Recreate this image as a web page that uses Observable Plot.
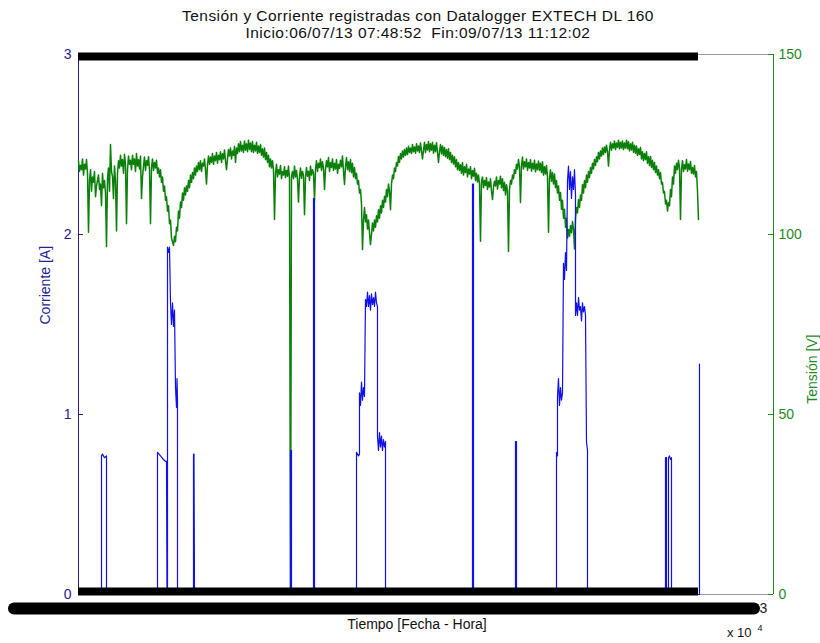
<!DOCTYPE html>
<html>
<head>
<meta charset="utf-8">
<script src="https://cdn.jsdelivr.net/npm/d3@7"></script>
<script src="https://cdn.jsdelivr.net/npm/@observablehq/plot@0.6"></script>
<style>
  body { margin: 0; background: #fff; }
  #title { width: 820px; height: 44px; box-sizing: border-box; padding-top: 7px; padding-left: 16px;
           text-align: center; font-family: "Liberation Sans", Arial, sans-serif; font-size: 15.5px; letter-spacing: 0.45px; line-height: 17px; color: #111; }
  #chart svg { display: block; }
</style>
</head>
<body>
<div id="title">Tensión y Corriente registradas con Datalogger EXTECH DL 160<br>Inicio:06/07/13 07:48:52&nbsp;&nbsp;Fin:09/07/13 11:12:02</div>
<div id="chart"></div>
<script>
// ---- data ----
// Voltage readings (V), one every voltStep samples from the start of the log
const voltStep = 86.33;
const voltage = [
120.5,119.2,121.0,119.5,120.8,100.6,118.0,116.0,117.5,113.5,
116.5,114.0,117.0,115.0,96.7,118.5,125.0,116.0,119.0,101.0,
120.5,122.0,120.8,122.3,103.0,121.8,120.6,122.0,121.0,122.5,
120.8,121.8,116.0,121.5,120.5,121.6,103.0,121.0,120.0,120.6,
118.5,118.0,116.0,113.5,110.5,108.0,104.0,98.0,99.5,102.0,
106.5,109.0,111.5,113.0,113.5,115.0,116.5,117.2,118.5,119.0,
120.0,120.5,119.8,121.0,114.0,121.8,121.5,122.5,121.8,122.8,
122.0,123.0,122.4,123.5,118.0,123.6,124.0,123.2,124.5,124.0,
125.2,125.8,124.8,126.0,125.2,126.2,125.4,125.8,124.8,125.6,
124.6,125.0,123.8,124.0,122.8,122.0,121.0,120.5,104.2,119.5,
118.0,119.2,117.5,118.8,117.8,119.0,0,117.5,119.0,117.8,
109.0,118.5,117.5,105.5,118.6,117.6,119.0,118.0,109.5,120.5,
119.8,121.0,120.2,112.5,120.5,121.4,120.0,121.0,119.8,120.8,
119.5,120.6,121.8,113.9,121.4,120.2,120.8,119.8,118.6,117.0,
115.0,112.5,95.8,107.5,105.5,104.0,97.2,103.2,104.0,105.2,
106.9,108.0,109.5,110.6,112.5,114.0,106.9,116.5,118.5,120.0,
121.7,122.5,123.2,123.6,124.0,124.5,124.0,125.0,124.3,125.2,
124.6,125.4,121.0,125.6,125.0,125.8,125.2,125.6,124.8,125.5,
120.0,125.0,124.6,124.2,123.6,123.8,122.8,122.0,121.6,120.8,
120.0,119.4,120.0,118.8,119.5,118.2,118.8,117.8,118.4,117.0,
116.5,98.1,116.0,115.0,115.8,114.6,115.5,109.7,114.8,116.0,
115.0,116.2,115.5,114.5,113.8,95.3,115.0,116.5,118.0,119.5,
120.8,108.9,121.5,120.2,121.0,120.0,120.8,119.8,120.6,119.6,
120.4,119.8,120.2,118.8,119.2,100.6,118.0,117.2,116.8,115.0,
113.5,111.7,109.5,107.0,104.5,101.4,102.5,103.6,96.0,107.5,
109.7,111.0,113.9,115.0,116.5,117.5,118.6,119.8,120.8,121.6,
122.8,123.2,124.0,124.3,124.8,119.0,125.6,125.2,126.0,125.4,
126.2,125.6,126.0,125.4,126.2,125.8,125.2,125.6,124.8,124.6,
123.8,124.2,123.0,122.5,123.0,121.6,121.7,120.6,120.0,119.0,
118.0,117.2,114.5,112.0,109.5,108.9,112.5,116.0,119.0,119.8,
120.6,104.2,120.5,119.4,120.8,119.6,120.3,118.6,119.2,117.5,
104.2
];
// Intermediate readings (V), half a step after each reading above (lower edge of the noisy band)
const voltageMid = [
117.5,118.0,116.5,118.2,117.0,115.0,112.0,114.5,110.5,115.0,
112.5,108.0,113.0,111.5,115.5,112.0,117.5,110.0,115.0,117.0,
118.5,119.0,117.0,119.5,118.0,119.5,118.0,119.5,117.5,119.0,
118.2,110.0,119.0,117.8,119.2,118.0,118.5,117.8,118.5,117.0,
116.0,114.5,112.0,109.5,106.5,103.0,99.0,97.0,98.0,101.0,
104.5,107.5,109.5,111.0,112.0,113.0,114.5,115.5,116.5,117.5,
118.0,117.5,119.0,118.0,119.5,119.5,120.0,119.5,120.5,119.8,
120.8,120.0,121.0,120.5,121.0,121.8,121.0,122.0,120.0,122.5,
123.0,123.2,122.8,123.4,123.0,123.6,123.0,122.8,123.2,122.5,
122.8,122.0,121.5,120.8,120.0,118.8,118.5,117.8,117.0,116.0,
116.8,115.5,116.5,115.8,116.2,115.5,116.0,115.5,116.0,115.2,
116.0,115.6,116.4,115.8,116.2,115.0,116.5,117.0,118.0,117.5,
118.6,117.8,118.5,118.0,118.8,117.5,118.6,117.8,118.2,117.0,
118.4,118.8,117.6,118.8,118.0,117.5,117.2,116.0,115.5,114.0,
111.5,108.5,104.0,103.5,101.5,100.5,100.0,101.0,102.0,103.5,
104.5,106.0,107.5,109.0,110.5,112.0,114.0,115.5,117.5,119.0,
120.0,121.0,121.5,122.0,122.2,122.8,122.5,123.0,122.6,123.2,
122.8,123.2,123.4,122.8,123.5,123.0,123.4,122.6,123.0,122.8,
123.0,122.4,122.0,121.6,121.2,120.8,120.0,119.6,118.8,118.0,
117.8,117.0,116.5,117.2,116.0,116.8,115.5,116.2,115.0,114.6,
114.0,114.8,113.0,113.6,112.5,113.2,112.0,113.0,113.5,112.6,
114.0,113.0,112.2,111.0,112.0,112.5,114.0,115.5,117.0,118.2,
118.8,119.0,118.2,118.8,117.8,118.5,117.6,118.2,117.4,118.0,
117.8,117.2,116.5,116.8,116.0,115.5,114.8,114.0,113.0,111.5,
109.5,107.0,104.5,102.0,99.0,99.5,100.5,101.5,104.5,106.0,
107.5,109.5,111.5,113.0,114.5,115.8,117.0,118.2,119.2,120.2,
121.0,121.8,122.2,122.8,123.0,123.5,123.4,124.0,123.6,124.2,
123.8,124.0,123.6,124.0,123.8,123.2,123.5,122.8,122.6,122.0,
122.2,121.0,120.5,120.8,119.8,119.2,118.6,118.0,117.2,116.5,
115.5,114.0,111.5,108.5,106.5,108.0,110.5,114.0,117.0,118.0,
118.6,118.0,117.5,118.2,117.6,118.0,117.0,116.8,116.0,112.0
];
// Current: [sample index, amperes]
const current = [
[0,0],[993,0],[993,0.77],[1036,0.78],[1122,0.76],[1209,0.77],[1209,0],
[3410,0],[3410,0.79],[3540,0.77],[3669,0.75],[3755,0.74],[3799,0.74],[3820,0],[3842,0],[3842,1.93],[3885,1.90],[3928,1.93],[3971,1.62],[4014,1.50],[4058,1.62],[4101,1.49],[4144,1.58],[4187,1.15],[4230,1.04],[4252,1.20],[4273,1.08],[4273,0],
[4964,0],[4964,0.78],[4986,0.78],[5007,0],
[9151,0],[9151,0.80],[9194,0.80],[9194,0],
[10144,0],[10144,2.20],[10187,2.20],[10187,0],
[12000,0],[12000,0.79],[12086,0.77],[12129,0.78],[12129,1.12],[12173,1.05],[12216,1.18],[12259,1.08],[12302,1.15],[12345,1.10],[12388,1.64],[12432,1.60],[12475,1.68],[12518,1.60],[12561,1.66],[12604,1.58],[12647,1.67],[12691,1.61],[12734,1.65],[12777,1.60],[12820,1.68],[12863,1.62],[12906,1.60],[12906,0.88],[12950,0.80],[12993,0.90],[13036,0.82],[13079,0.88],[13122,0.80],[13165,0.86],[13209,0.82],[13252,0.85],[13252,0],
[17007,0],[17007,2.28],[17050,2.28],[17050,0],
[18863,0],[18863,0.85],[18906,0.85],[18906,0],
[20633,0],[20633,0.79],[20676,0.77],[20676,1.10],[20719,1.20],[20762,1.05],[20806,1.15],[20849,1.08],[20892,1.12],[20935,1.84],[20978,1.75],[21021,1.90],[21065,1.80],[21108,2.30],[21151,2.38],[21194,2.25],[21237,2.35],[21280,2.20],[21324,2.32],[21367,2.25],[21410,2.36],[21453,2.22],[21453,1.55],[21496,1.62],[21539,1.55],[21583,1.65],[21626,1.58],[21669,1.60],[21712,1.52],[21755,1.62],[21798,1.57],[21842,1.60],[21885,1.55],[21928,0.85],[21971,0.80],[21971,0],
[25338,0],[25338,0.76],[25381,0.76],[25381,0],[25467,0],[25467,0.76],[25510,0.77],[25554,0.75],[25597,0.76],[25597,0],
[26805,0],[26805,1.28]
];
const currentTicks = [0, 1, 2, 3];
const voltageTicks = [0, 50, 100, 150];
const voltsPerAmpUnit = 50;          // right axis = left axis x 50
const xDomain = [0, 30000];
const dataEnd = 26763;
// heavy black bands seen in the picture: [x1, x2, y]
const bandTop = [[0, dataEnd, 3]];
const bandBottom = [[0, dataEnd, 0]];
const bandLabels = [[-2763, 29180, -0.078]];

// ---- build ----
const voltRows = [];
voltage.forEach((v, i) => {
  voltRows.push({t: i * voltStep, v: v / voltsPerAmpUnit});
  if (i < voltageMid.length) voltRows.push({t: (i + 0.5) * voltStep, v: voltageMid[i] / voltsPerAmpUnit});
});
const navy = "#23238f", green = "#1f8a1f";
const tickLen = 216;

const chart = Plot.plot({
  width: 820, height: 599,
  marginLeft: 78, marginRight: 47, marginTop: 10, marginBottom: 49,
  style: {fontFamily: "Liberation Sans, Arial, sans-serif", fontSize: "14px", background: "white"},
  x: {domain: xDomain, axis: null},
  y: {domain: [0, 3], axis: null},
  marks: [
    Plot.ruleY([0, 3], {stroke: "#9a9a9a", strokeWidth: 1}),
    Plot.ruleX([xDomain[0]], {stroke: navy, strokeWidth: 1}),
    Plot.ruleX([xDomain[1]], {stroke: green, strokeWidth: 1}),
    Plot.ruleY(currentTicks, {x1: xDomain[0], x2: xDomain[0] + tickLen, stroke: navy}),
    Plot.ruleY(currentTicks, {x1: xDomain[1] - tickLen, x2: xDomain[1], stroke: green}),
    Plot.axisY(currentTicks, {anchor: "left", label: null, tickSize: 0, tickPadding: 7, fill: navy, fontSize: 14, tickFormat: d3.format("d")}),
    Plot.axisY(currentTicks, {anchor: "right", label: null, tickSize: 0, tickPadding: 5, fill: green, fontSize: 14, tickFormat: d => voltageTicks[currentTicks.indexOf(d)]}),
    Plot.line(voltRows, {x: "t", y: "v", stroke: "#0a800a", strokeWidth: 1.5}),
    Plot.line(current, {x: d => d[0], y: d => d[1], stroke: "#1010e8", strokeWidth: 1.2}),
    Plot.ruleY(bandTop, {x1: d => d[0], x2: d => d[1], y: d => d[2], stroke: "black", strokeWidth: 8, dy: 2}),
    Plot.ruleY(bandBottom, {x1: d => d[0], x2: d => d[1], y: d => d[2], stroke: "black", strokeWidth: 8, dy: -3}),
    Plot.ruleY(bandLabels, {x1: d => d[0], x2: d => d[1], y: d => d[2], stroke: "black", strokeWidth: 12, strokeLinecap: "round"}),
    Plot.text(["3"], {x: xDomain[1], y: bandLabels[0][2], text: d => d, dx: -10, fontSize: 14, fill: "#222"}),
    Plot.text(["Corriente [A]"], {frameAnchor: "left", dx: -33, rotate: -90, fill: navy, fontSize: 14}),
    Plot.text(["Tensión [V]"], {frameAnchor: "right", dx: 39, dy: 10, rotate: -90, fill: green, fontSize: 14}),
    Plot.text(["Tiempo [Fecha - Hora]"], {frameAnchor: "bottom", dx: -9, dy: 34, fill: "#111", fontSize: 14}),
    Plot.text(["x 10"], {frameAnchor: "bottom-right", dx: -22, dy: 42, fill: "#111", fontSize: 13}),
    Plot.text(["4"], {frameAnchor: "bottom-right", dx: -11, dy: 36, fill: "#111", fontSize: 9})
  ]
});
document.getElementById("chart").appendChild(chart);
</script>
</body>
</html>
